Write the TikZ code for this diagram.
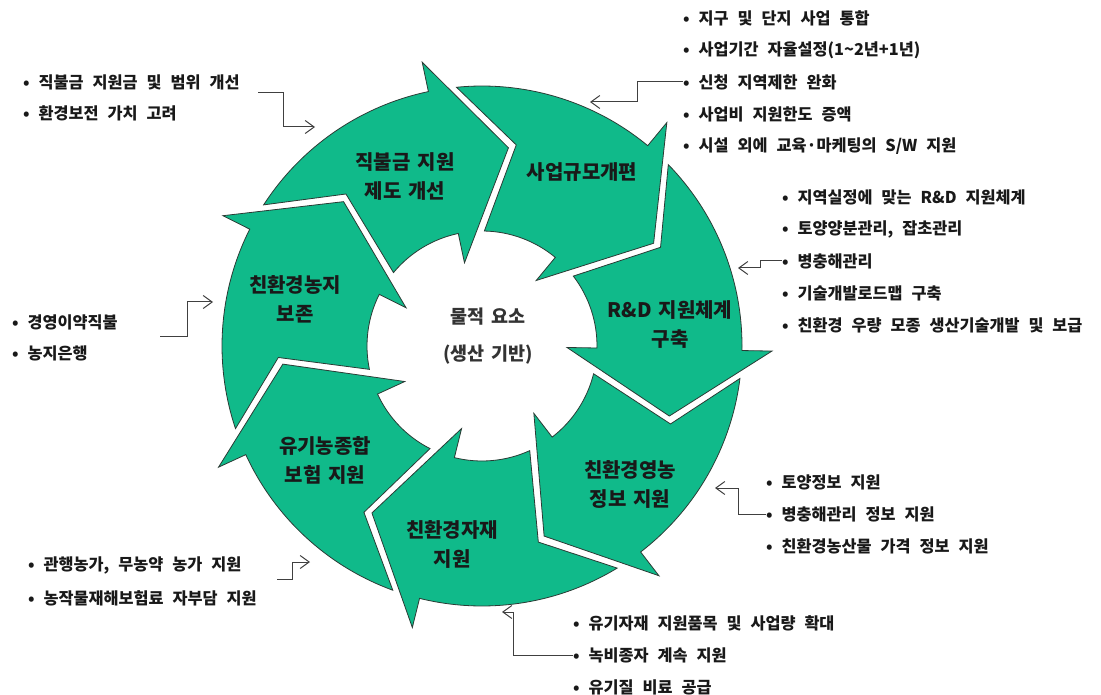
\documentclass[tikz,border=0pt]{standalone}
\usepackage{fontspec}
\setmainfont{Noto Sans CJK KR}[WordSpace=2.4]
\newfontfamily\lblfont{Noto Sans CJK KR}[WordSpace=1.5]
\usetikzlibrary{arrows.meta}
\definecolor{cycgreen}{HTML}{10BA8A}
\definecolor{cycline}{HTML}{2B3B35}
\definecolor{conngrey}{HTML}{404040}

\begin{document}
\begin{tikzpicture}[x=1pt, y=1pt,
  seg/.style={fill=cycgreen, draw=cycline, line width=0.8pt, line join=miter},
  lbl/.style={font=\lblfont\fontsize{20}{29}\selectfont\bfseries, align=center, text=black!90, inner sep=0pt},
  ctr/.style={font=\lblfont\fontsize{18.5}{37}\selectfont\bfseries, align=center, text=black!80, inner sep=0pt},
  item/.style={font=\fontsize{16.3}{18}\selectfont\bfseries, anchor=west, inner sep=0pt, text=black!90},
  conn/.style={-{Straight Barb[length=9pt,width=13pt]}, conngrey, line width=1pt},
]
  \useasboundingbox (0,0) rectangle (1101,-695);

  %% 일곱 개의 순환 화살표 (머리 밑변 각도)
  \begin{scope}[shift={(482,-346)}]
    \foreach \hb in {101.9, 50.4, -1, -52.4, -103.9, -155.3, -206.7} {
      \pgfmathsetmacro\tp{\hb+51.43}
      \pgfmathsetmacro\tlo{\tp-6.2}
      \pgfmathsetmacro\tli{\tp-13}
      \pgfmathsetmacro\tln{\tp-21.5}
      \pgfmathsetmacro\hti{\hb-19.5}
      \draw[seg] (\tlo:260) arc[start angle=\tlo, end angle=\hb, radius=260]
        -- (\hb:290) -- (\hti:200) -- (\hb:85) -- (\hb:115)
        arc[start angle=\hb, end angle=\tli, radius=115] -- (\tln:204) -- cycle;
    }
  \end{scope}

  %% 화살표 안의 글
  \node[lbl] (jik)  at (405,-177) {직불금 지원\\제도 개선};
  \node[lbl] (scl)  at (582,-172) {사업규모개편};
  \node[lbl] (rnd)  at (670,-325) {R\&D 지원체계\\구축};
  \node[lbl] (info) at (630,-484) {친환경영농\\정보 지원};
  \node[lbl] (mat)  at (452,-544) {친환경자재\\지원};
  \node[lbl] (ins)  at (325,-460) {유기농종합\\보험 지원};
  \node[lbl] (land) at (295,-299) {친환경농지\\보존};
  \node[ctr] (core) at (488,-336) {물적 요소\\(생산 기반)};

  %% 바깥 설명 목록
  \foreach \t [count=\i] in {지구 및 단지 사업 통합, 사업기간 자율설정(1\textasciitilde 2년+1년),
      신청 지역제한 완화, 사업비 지원한도 증액, 시설 외에 교육·마케팅의 S/W 지원}
    \node[item] (sc\i) at (683,-18-32*\i+32) {•\hspace{9pt}\t};
  \foreach \t [count=\i] in {지역실정에 맞는 R\&D 지원체계, {토양양분관리, 잡초관리}, 병충해관리,
      기술개발로드맵 구축, 친환경 우량 모종 생산기술개발 및 보급}
    \node[item] (rd\i) at (782,-197-32*\i+32) {•\hspace{9pt}\t};
  \foreach \t [count=\i] in {토양정보 지원, 병충해관리 정보 지원, 친환경농산물 가격 정보 지원}
    \node[item] (in\i) at (766,-482-32*\i+32) {•\hspace{9pt}\t};
  \foreach \t [count=\i] in {유기자재 지원품목 및 사업량 확대, 녹비종자 계속 지원, 유기질 비료 공급}
    \node[item] (mt\i) at (573,-623-32*\i+32) {•\hspace{9pt}\t};
  \foreach \t [count=\i] in {{관행농가, 무농약 농가 지원}, 농작물재해보험료 자부담 지원}
    \node[item] (is\i) at (28,-565-33*\i+33) {•\hspace{9pt}\t};
  \foreach \t [count=\i] in {경영이약직불, 농지은행}
    \node[item] (ld\i) at (12,-322-31*\i+31) {•\hspace{9pt}\t};
  \foreach \t [count=\i] in {직불금 지원금 및 범위 개선, 환경보전 가치 고려}
    \node[item] (jk\i) at (23,-82-31*\i+31) {•\hspace{9pt}\t};

  %% 연결선
  \coordinate (scTip) at (590,-102);
  \coordinate (rdTip) at (738,-268);
  \coordinate (inTip) at (715,-488);
  \coordinate (mtTip) at (502,-612);
  \coordinate (isFrom) at (277,-579);
  \coordinate (isTip)  at (310,-562);
  \coordinate (ldFrom) at (160,-336);
  \coordinate (ldTip)  at (213,-302);
  \coordinate (jkFrom) at (258,-93);
  \coordinate (jkTip)  at (315,-127);

  \draw[conn] (sc3.west) -- ++(-46,0) |- (scTip);
  \draw[conn] (rd3.west) -- ++(-22,0) |- (rdTip);
  \draw[conn] (in2.west) -- ++(-28,0) |- (inTip);
  \draw[conn] (mt2.west) -- ++(-60,0) |- (mtTip);
  \draw[conn] (isFrom) -- ++(15,0) |- (isTip);
  \draw[conn] (ldFrom) -- ++(27,0) |- (ldTip);
  \draw[conn] (jkFrom) -- ++(25,0) |- (jkTip);

\end{tikzpicture}
\end{document}
